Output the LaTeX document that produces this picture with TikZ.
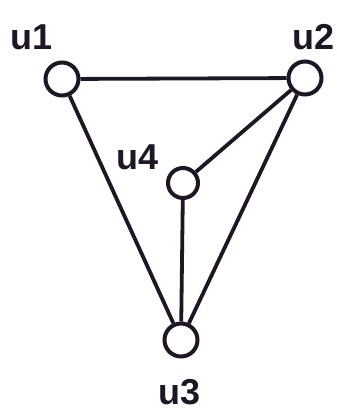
\documentclass[tikz,border=0pt]{standalone}
\usepackage{fontspec}
\setmainfont{Liberation Sans}
\definecolor{ink}{HTML}{1E1624}
\begin{document}
\begin{tikzpicture}[x=1pt,y=-1pt,
  vert/.style={circle,draw=ink,line width=4pt,fill=white,inner sep=0pt,minimum size=33pt},
  edge/.style={draw=ink,line width=3.8pt},
  lbl/.style={text=ink,font=\fontsize{36}{36}\selectfont\bfseries,inner sep=0pt}]
\useasboundingbox (0,0) rectangle (337,415);
\node[vert] (u1) at (62,79) {};
\node[vert] (u2) at (305,78) {};
\node[vert,minimum size=30pt] (u4) at (183,183) {};
\node[vert] (u3) at (181,340) {};
\draw[edge] (u1) -- (u2);
\draw[edge] (u1) -- (u3);
\draw[edge] (u2) -- (u4);
\draw[edge] (u2) -- (u3);
\draw[edge] (u4) -- (u3);
\node[lbl] (l1) at (32,37) {u1};
\node[lbl] (l2) at (314,37) {u2};
\node[lbl] (l4) at (138,157) {u4};
\node[lbl] (l3) at (180,392) {u3};
\end{tikzpicture}
\end{document}
